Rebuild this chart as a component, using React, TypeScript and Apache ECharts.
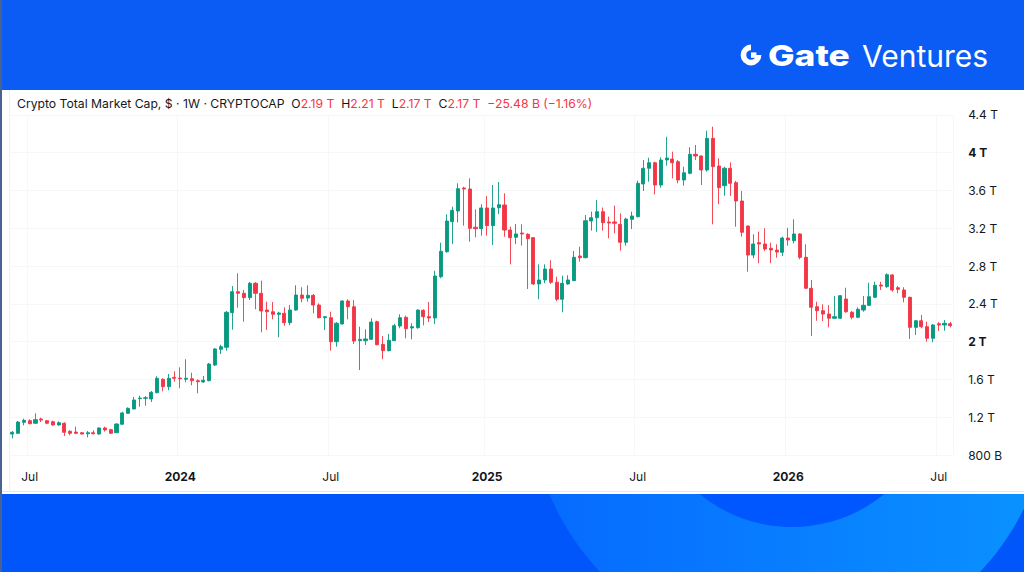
import React, { useEffect, useRef } from "react";
import * as echarts from "echarts";

// ---- data (weekly candles, values in trillions of USD) ----
const firstWeek = "2023-06-12";

const opens = [
  1.023, 1.031, 1.147, 1.164, 1.137, 1.182, 1.164, 1.153, 1.119, 1.137,
  1.052, 1.044, 1.037, 1.026, 1.037, 1.023, 1.087, 1.069, 1.037, 1.126,
  1.242, 1.288, 1.397, 1.401, 1.394, 1.46, 1.602, 1.524, 1.623, 1.616,
  1.602, 1.608, 1.587, 1.574, 1.587, 1.753, 1.92, 1.941, 2.307, 2.529,
  2.512, 2.466, 2.618, 2.512, 2.335, 2.317, 2.29, 2.3, 2.201, 2.335,
  2.494, 2.462, 2.491, 2.388, 2.254, 2.254, 2.0, 2.187, 2.431, 2.37,
  2.011, 2.011, 2.025, 2.212, 1.972, 1.905, 2.011, 2.166, 2.258, 2.145,
  2.148, 2.332, 2.265, 2.251, 2.688, 2.952, 3.27, 3.383, 3.626, 3.616,
  3.211, 3.196, 3.415, 3.228, 3.418, 3.447, 3.182, 3.105, 3.15, 3.137,
  3.101, 2.611, 2.653, 2.769, 2.629, 2.449, 2.611, 2.646, 2.907, 2.889,
  3.277, 3.312, 3.376, 3.267, 3.267, 3.242, 3.052, 3.295, 3.323, 3.669,
  3.835, 3.894, 3.658, 3.923, 3.933, 3.905, 3.711, 3.782, 3.983, 3.965,
  3.817, 4.152, 3.859, 3.651, 3.835, 3.683, 3.489, 3.224, 2.917, 3.048,
  3.034, 2.988, 2.97, 2.946, 3.097, 3.069, 3.14, 2.893, 2.565, 2.37,
  2.328, 2.293, 2.248, 2.248, 2.452, 2.311, 2.258, 2.335, 2.385, 2.47,
  2.6, 2.582, 2.706, 2.571, 2.547, 2.47, 2.152, 2.222, 2.159, 2.036,
  2.19, 2.177, 2.19,
];
const highs = [
  1.055, 1.161, 1.185, 1.179, 1.242, 1.196, 1.171, 1.164, 1.158, 1.147,
  1.062, 1.101, 1.044, 1.055, 1.062, 1.094, 1.101, 1.079, 1.137, 1.259,
  1.306, 1.415, 1.429, 1.425, 1.478, 1.634, 1.613, 1.658, 1.687, 1.729,
  1.814, 1.672, 1.602, 1.637, 1.775, 1.933, 1.968, 2.325, 2.589, 2.724,
  2.547, 2.632, 2.632, 2.646, 2.423, 2.42, 2.317, 2.364, 2.388, 2.597,
  2.576, 2.597, 2.505, 2.406, 2.272, 2.317, 2.208, 2.438, 2.449, 2.441,
  2.159, 2.131, 2.248, 2.222, 2.06, 2.081, 2.19, 2.29, 2.275, 2.195,
  2.343, 2.343, 2.42, 2.751, 3.048, 3.348, 3.429, 3.676, 3.64, 3.729,
  3.401, 3.454, 3.542, 3.658, 3.69, 3.57, 3.217, 3.246, 3.242, 3.147,
  3.108, 2.819, 2.819, 2.861, 2.688, 2.698, 2.703, 2.96, 3.005, 3.341,
  3.376, 3.499, 3.42, 3.323, 3.439, 3.359, 3.312, 3.376, 3.704, 3.923,
  3.947, 3.905, 3.951, 4.169, 4.011, 3.923, 3.852, 4.057, 4.082, 3.972,
  4.233, 4.275, 3.941, 3.852, 3.898, 3.701, 3.595, 3.232, 3.137, 3.164,
  3.2, 3.048, 3.031, 3.111, 3.206, 3.295, 3.147, 3.031, 2.653, 2.423,
  2.396, 2.388, 2.484, 2.494, 2.571, 2.325, 2.364, 2.484, 2.624, 2.635,
  2.635, 2.724, 2.716, 2.589, 2.576, 2.476, 2.23, 2.283, 2.212, 2.187,
  2.208, 2.23, 2.21,
];
const lows = [
  0.978, 1.023, 1.115, 1.126, 1.132, 1.15, 1.126, 1.111, 1.111, 1.002,
  1.01, 1.02, 1.02, 0.988, 1.02, 1.016, 1.048, 1.023, 1.034, 1.122,
  1.238, 1.285, 1.312, 1.323, 1.362, 1.454, 1.475, 1.486, 1.577, 1.507,
  1.57, 1.539, 1.454, 1.563, 1.581, 1.743, 1.87, 1.905, 2.127, 2.36,
  2.212, 2.441, 2.343, 2.099, 2.124, 2.237, 2.047, 2.169, 2.173, 2.328,
  2.417, 2.423, 2.3, 2.247, 2.124, 1.905, 1.947, 2.184, 2.237, 1.976,
  1.701, 1.965, 2.018, 1.962, 1.814, 1.898, 2.007, 2.142, 2.036, 2.025,
  2.138, 2.173, 2.208, 2.187, 2.671, 2.942, 3.034, 3.263, 3.228, 3.058,
  3.105, 3.122, 3.122, 3.023, 3.351, 3.111, 2.819, 3.034, 3.016, 2.558,
  2.6, 2.449, 2.618, 2.611, 2.428, 2.311, 2.603, 2.642, 2.847, 2.883,
  3.175, 3.164, 3.175, 3.094, 3.147, 2.963, 3.016, 3.193, 3.316, 3.595,
  3.693, 3.56, 3.63, 3.862, 3.729, 3.676, 3.651, 3.771, 3.923, 3.658,
  3.799, 3.242, 3.454, 3.545, 3.542, 3.217, 3.111, 2.741, 2.883, 2.83,
  2.96, 2.83, 2.889, 2.907, 3.016, 3.041, 2.872, 2.558, 2.06, 2.222,
  2.219, 2.152, 2.24, 2.24, 2.307, 2.237, 2.248, 2.317, 2.378, 2.466,
  2.547, 2.571, 2.529, 2.512, 2.417, 2.029, 2.071, 2.142, 2.0, 1.994,
  2.113, 2.116, 2.152,
];
const closes = [
  1.041, 1.15, 1.168, 1.132, 1.175, 1.171, 1.137, 1.119, 1.143, 1.041,
  1.031, 1.031, 1.023, 1.037, 1.026, 1.087, 1.066, 1.031, 1.129, 1.246,
  1.295, 1.383, 1.404, 1.407, 1.464, 1.613, 1.524, 1.613, 1.613, 1.608,
  1.613, 1.587, 1.577, 1.592, 1.764, 1.923, 1.947, 2.311, 2.529, 2.512,
  2.466, 2.618, 2.512, 2.325, 2.317, 2.29, 2.304, 2.201, 2.335, 2.494,
  2.459, 2.491, 2.388, 2.254, 2.265, 2.0, 2.195, 2.431, 2.37, 2.007,
  2.025, 2.029, 2.208, 1.968, 1.905, 2.015, 2.169, 2.254, 2.138, 2.159,
  2.335, 2.265, 2.251, 2.695, 2.957, 3.277, 3.39, 3.619, 3.616, 3.2,
  3.196, 3.415, 3.228, 3.415, 3.45, 3.182, 3.101, 3.14, 3.14, 3.09,
  2.611, 2.653, 2.769, 2.629, 2.449, 2.618, 2.653, 2.893, 2.889, 3.28,
  3.312, 3.376, 3.259, 3.256, 3.253, 3.052, 3.298, 3.33, 3.676, 3.835,
  3.894, 3.658, 3.923, 3.944, 3.894, 3.711, 3.788, 3.983, 3.965, 3.817,
  4.152, 3.852, 3.63, 3.835, 3.676, 3.489, 3.158, 2.917, 3.034, 3.034,
  2.981, 2.97, 2.949, 3.097, 3.076, 3.14, 2.893, 2.565, 2.364, 2.328,
  2.293, 2.248, 2.265, 2.487, 2.317, 2.258, 2.343, 2.385, 2.476, 2.597,
  2.589, 2.709, 2.547, 2.554, 2.47, 2.152, 2.222, 2.159, 2.036, 2.177,
  2.177, 2.195, 2.17,
];

const yTickMin = 0.8;
const yTickMax = 4.4;
const yTickStep = 0.4;

const titleText = "Crypto Total Market Cap, $ · 1W · CRYPTOCAP";
const ohlcKeys = ["O", "H", "L", "C"];
const ohlcTexts = ["2.19 T", "2.21 T", "2.17 T", "2.17 T"];
const changeText = "−25.48 B (−1.16%)";
const brandBold = "Gate";
const brandLight = "Ventures";

const FONT = "Inter, 'Noto Sans', 'DejaVu Sans', sans-serif";
const UP = "#089981";
const DOWN = "#F23645";
const INK = "#131722";
const GRIDLINE = "#f6f7f9";

function weeklyDates(start: string, n: number): string[] {
  const t0 = Date.parse(start + "T00:00:00Z");
  const out: string[] = [];
  for (let i = 0; i < n; i++) {
    out.push(new Date(t0 + i * 7 * 86400000).toISOString().slice(0, 10));
  }
  return out;
}

export default function App() {
  const ref = useRef<HTMLDivElement>(null);

  useEffect(() => {
    if (!ref.current) return;
    const chart = echarts.init(ref.current, undefined, { renderer: "svg" });

    const dates = weeklyDates(firstWeek, opens.length);
    const labelSet = new Set<number>();
    dates.forEach((d, i) => {
      if (i === 0) return;
      const m = d.slice(5, 7);
      const pm = dates[i - 1].slice(5, 7);
      if (m !== pm && (m === "01" || m === "07")) labelSet.add(i);
    });

    const candles = dates.map((_, i) => [opens[i], closes[i], lows[i], highs[i]]);

    const titleRich =
      titleText +
      "  " +
      ohlcKeys.map((k, i) => `${k}{r|${ohlcTexts[i]}}`).join("  ") +
      `  {r|${changeText}}`;

    const TFS = 12.2;

    // Gate logo icon
    const icx = 751;
    const icy = 55;

    const option: any = {
      animation: false,
      backgroundColor: "transparent",
      textStyle: { fontFamily: FONT },
      grid: { left: 9.4, right: 70.8, top: 114.9, bottom: 116.9 },
      xAxis: {
        type: "category",
        data: dates,
        boundaryGap: true,
        axisLine: { show: false },
        axisTick: { show: false },
        axisLabel: {
          interval: (i: number) => labelSet.has(i),
          formatter: (v: string) => {
            const m = v.slice(5, 7);
            if (m === "01") return `{y|${v.slice(0, 4)}}`;
            return "Jul";
          },
          color: INK,
          fontSize: 12,
          fontFamily: FONT,
          margin: 15,
          rich: {
            y: { fontWeight: "bold", fontSize: 12, color: INK, fontFamily: FONT },
          },
        },
        splitLine: {
          show: true,
          interval: (i: number) => labelSet.has(i),
          lineStyle: { color: GRIDLINE, width: 1 },
        },
      },
      yAxis: {
        type: "value",
        position: "right",
        min: yTickMin,
        max: yTickMax,
        interval: yTickStep,
        axisLine: { show: false },
        axisTick: { show: false },
        axisLabel: {
          showMinLabel: true,
          showMaxLabel: true,
          margin: 15,
          color: INK,
          fontSize: 12,
          fontFamily: FONT,
          formatter: (v: number) => {
            const r = Math.round(v * 10) / 10;
            if (r < 1) return `{n|${Math.round(r * 1000)} B}`;
            if (Number.isInteger(r)) return `{b|${r} T}`;
            return `{n|${r.toFixed(1)} T}`;
          },
          rich: {
            n: { color: INK, fontSize: 12, fontFamily: FONT },
            b: { color: INK, fontSize: 12, fontWeight: "bold", fontFamily: FONT },
          },
        },
        splitLine: { lineStyle: { color: GRIDLINE, width: 1 } },
      },
      series: [
        {
          type: "candlestick",
          data: candles,
          barWidth: 3.6,
          itemStyle: {
            color: UP,
            color0: DOWN,
            borderColor: UP,
            borderColor0: DOWN,
            borderWidth: 0.9,
          },
        },
      ],
      graphic: [
        // background blue page
        { type: "rect", z: -20, silent: true, shape: { x: 0, y: 0, width: 1024, height: 572 }, style: { fill: "#0a5cf5" } },
        { type: "rect", z: -19, silent: true, shape: { x: 0, y: 494, width: 1024, height: 78 }, style: { fill: "#0055fb" } },
        {
          type: "circle",
          z: -18,
          silent: true,
          shape: { cx: 790, cy: 393, r: 261 },
          style: {
            fill: new echarts.graphic.LinearGradient(0, 0, 1, 0, [
              { offset: 0, color: "#0669ff" },
              { offset: 1, color: "#0a93ff" },
            ]),
          },
        },
        { type: "circle", z: -17, silent: true, shape: { cx: 792, cy: 381, r: 146 }, style: { fill: "#0057ff" } },
        // white chart panel
        { type: "rect", z: -16, silent: true, shape: { x: 2, y: 90, width: 1022, height: 404 }, style: { fill: "#ffffff" } },
        { type: "line", z: -15, silent: true, shape: { x1: 2, y1: 491.5, x2: 1024, y2: 491.5 }, style: { stroke: "#e3e6ec", lineWidth: 1 } },
        { type: "line", z: -15, silent: true, shape: { x1: 9.5, y1: 90, x2: 9.5, y2: 491 }, style: { stroke: "#eef0f4", lineWidth: 1 } },
        // left dark edge
        { type: "rect", z: -14, silent: true, shape: { x: 0, y: 0, width: 2, height: 572 }, style: { fill: "#4a6290" } },
        // title / legend
        {
          type: "text",
          z: 10,
          x: 17,
          y: 103,
          style: {
            text: titleRich,
            fontFamily: FONT,
            fontSize: TFS,
            fill: INK,
            verticalAlign: "middle",
            rich: {
              r: { fill: DOWN, color: DOWN, fontSize: TFS, fontFamily: FONT },
            },
          },
        },
        // logo icon
        {
          type: "arc",
          z: 10,
          silent: true,
          shape: { cx: icx, cy: icy, r: 7.6, startAngle: 0, endAngle: Math.PI * 1.5, clockwise: true },
          style: { stroke: "#ffffff", lineWidth: 5.6, fill: null },
        },
        {
          type: "rect",
          z: 10,
          silent: true,
          shape: { x: icx, y: icy - 2.6, width: 5.4, height: 5.4 },
          style: { fill: "#ffffff" },
        },
        {
          type: "text",
          z: 10,
          x: 768,
          y: 56,
          scaleX: 1.22,
          style: {
            text: brandBold,
            verticalAlign: "middle",
            fill: "#ffffff",
            fontFamily: FONT,
            fontSize: 29,
            fontWeight: 800,
          },
        },
        {
          type: "text",
          z: 10,
          x: 862,
          y: 56,
          style: {
            text: brandLight,
            verticalAlign: "middle",
            fill: "#ffffff",
            fontFamily: FONT,
            fontSize: 30,
            fontWeight: 400,
          },
        },
      ],
    };

    chart.setOption(option);
    return () => chart.dispose();
  }, []);

  return (
    <div
      ref={ref}
      style={{ position: "absolute", left: 0, top: 0, width: 1024, height: 572 }}
    />
  );
}
